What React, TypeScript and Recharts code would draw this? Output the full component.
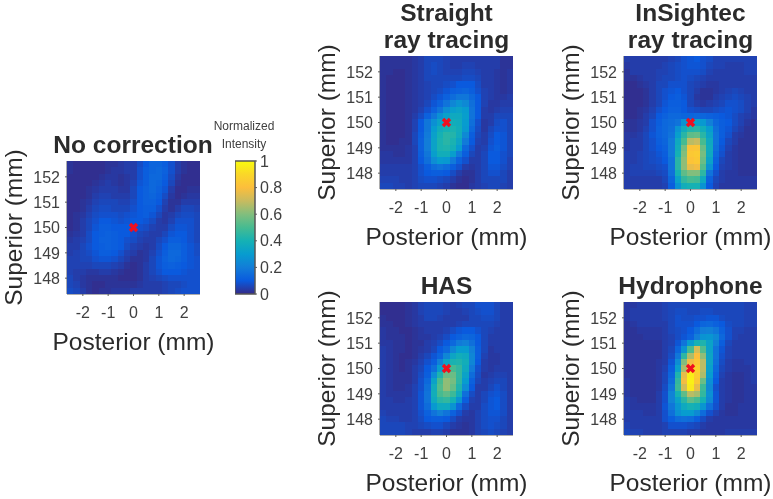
import React from 'react';
import { ScatterChart, Scatter, BarChart, Bar, XAxis, YAxis } from 'recharts';

const FONT = '"Liberation Sans", Arial, sans-serif';
const TEXT = '#2b2b2b';
const AXIS = '#5a5a5a';
const PLOT = 133;
const CELL = PLOT / 21;
const LEFT = 70;
const TOP = 24;
const BOTTOM = 62;
const RIGHT = 32;

const posterior = [-2.5, -2.25, -2, -1.75, -1.5, -1.25, -1, -0.75, -0.5, -0.25, 0, 0.25, 0.5, 0.75, 1, 1.25, 1.5, 1.75, 2, 2.25, 2.5];
const superior = [152.5, 152.25, 152, 151.75, 151.5, 151.25, 151, 150.75, 150.5, 150.25, 150, 149.75, 149.5, 149.25, 149, 148.75, 148.5, 148.25, 148, 147.75, 147.5];
const posteriorTicks = [-2, -1, 0, 1, 2];
const superiorTicks = [148, 149, 150, 151, 152];
const colorbarTicks = [0, 0.2, 0.4, 0.6, 0.8, 1];
const target = [{ x: 0, y: 150 }];

// percent of the normalized intensity, rows top to bottom
const noCorrection = [
  [2, 1, 1, 1, 1, 1, 2, 2, 3, 4, 4, 7, 10, 13, 13, 11, 8, 4, 2, 1, 1],
  [2, 1, 1, 1, 1, 1, 2, 3, 3, 4, 4, 8, 11, 13, 14, 12, 8, 4, 2, 1, 1],
  [1, 1, 1, 1, 1, 2, 3, 3, 2, 3, 4, 8, 11, 14, 14, 11, 7, 3, 1, 1, 1],
  [1, 1, 1, 1, 2, 3, 4, 3, 2, 3, 5, 9, 11, 14, 13, 10, 6, 2, 1, 1, 1],
  [1, 1, 1, 2, 3, 4, 4, 4, 3, 3, 6, 10, 12, 14, 12, 9, 4, 1, 1, 2, 2],
  [1, 1, 1, 2, 4, 5, 5, 4, 4, 4, 6, 10, 12, 13, 11, 7, 3, 1, 2, 3, 3],
  [1, 1, 2, 3, 5, 6, 6, 6, 5, 5, 7, 10, 12, 12, 10, 5, 2, 2, 4, 4, 4],
  [1, 1, 2, 4, 6, 7, 7, 6, 6, 6, 8, 10, 11, 11, 8, 4, 2, 4, 6, 6, 5],
  [1, 2, 3, 5, 7, 8, 8, 8, 7, 8, 9, 10, 11, 9, 6, 3, 4, 6, 7, 7, 6],
  [1, 2, 4, 6, 8, 10, 10, 9, 8, 9, 10, 10, 9, 7, 4, 3, 5, 8, 8, 8, 6],
  [1, 2, 4, 6, 9, 11, 11, 10, 10, 10, 9, 8, 7, 5, 4, 4, 7, 9, 9, 8, 6],
  [2, 3, 4, 7, 10, 11, 12, 11, 10, 10, 8, 6, 5, 4, 4, 6, 9, 10, 10, 8, 6],
  [3, 4, 5, 7, 10, 12, 12, 11, 10, 8, 7, 5, 4, 4, 6, 8, 11, 11, 10, 8, 6],
  [4, 4, 6, 8, 10, 11, 12, 11, 10, 7, 5, 4, 3, 4, 7, 10, 13, 13, 11, 9, 7],
  [4, 5, 6, 7, 9, 11, 11, 10, 8, 5, 4, 2, 3, 5, 8, 11, 14, 14, 11, 9, 7],
  [5, 5, 6, 6, 8, 9, 9, 8, 6, 4, 2, 2, 3, 6, 9, 12, 14, 13, 11, 9, 8],
  [5, 5, 5, 5, 6, 6, 6, 5, 4, 2, 1, 2, 4, 6, 9, 11, 12, 11, 10, 9, 8],
  [5, 4, 4, 3, 3, 4, 4, 3, 2, 1, 1, 2, 4, 6, 8, 10, 10, 10, 9, 8, 8],
  [6, 4, 3, 2, 2, 2, 2, 2, 1, 1, 1, 2, 4, 5, 6, 7, 8, 8, 8, 8, 8],
  [6, 5, 3, 2, 1, 1, 2, 2, 2, 2, 2, 3, 4, 4, 4, 5, 6, 6, 7, 8, 8],
  [7, 6, 4, 2, 1, 2, 2, 3, 3, 3, 4, 4, 4, 4, 4, 5, 6, 7, 8, 8, 8],
];

const straightRay = [
  [2, 2, 2, 2, 2, 3, 4, 6, 6, 6, 5, 4, 4, 4, 4, 4, 4, 4, 4, 2, 2],
  [2, 2, 2, 2, 2, 3, 4, 6, 7, 6, 5, 4, 4, 5, 5, 4, 4, 4, 4, 2, 2],
  [2, 2, 1, 1, 2, 3, 4, 6, 7, 6, 5, 5, 5, 6, 6, 5, 4, 4, 3, 2, 3],
  [2, 1, 1, 1, 2, 3, 4, 6, 6, 6, 6, 6, 6, 7, 7, 6, 4, 4, 3, 2, 3],
  [2, 1, 1, 1, 2, 3, 4, 5, 6, 6, 7, 8, 10, 10, 10, 7, 4, 4, 3, 2, 3],
  [2, 1, 1, 1, 2, 3, 4, 5, 6, 7, 9, 11, 12, 13, 11, 8, 5, 4, 3, 2, 3],
  [2, 1, 1, 1, 2, 3, 4, 5, 7, 9, 12, 15, 18, 18, 14, 10, 5, 4, 3, 3, 4],
  [2, 1, 1, 1, 2, 3, 4, 6, 9, 12, 17, 23, 27, 24, 16, 10, 5, 3, 3, 4, 4],
  [2, 1, 1, 1, 2, 3, 5, 8, 12, 17, 25, 31, 33, 30, 17, 10, 4, 3, 4, 5, 5],
  [2, 1, 1, 1, 2, 4, 7, 12, 18, 26, 32, 36, 36, 31, 17, 10, 4, 4, 6, 6, 6],
  [2, 1, 1, 1, 2, 5, 10, 18, 26, 33, 37, 38, 37, 30, 16, 8, 3, 4, 7, 8, 6],
  [2, 1, 1, 1, 2, 5, 10, 18, 30, 37, 40, 41, 38, 29, 14, 7, 3, 6, 8, 8, 6],
  [2, 1, 1, 1, 2, 6, 11, 19, 32, 40, 44, 43, 37, 24, 11, 6, 4, 7, 10, 9, 6],
  [2, 1, 1, 2, 2, 6, 12, 20, 33, 41, 44, 41, 34, 19, 10, 5, 4, 8, 10, 9, 6],
  [2, 2, 2, 2, 3, 5, 12, 20, 33, 41, 42, 39, 30, 14, 8, 4, 5, 9, 11, 9, 6],
  [3, 3, 2, 2, 3, 5, 11, 18, 31, 38, 38, 31, 19, 11, 6, 4, 6, 10, 10, 8, 6],
  [3, 3, 3, 3, 3, 5, 10, 16, 25, 30, 29, 19, 12, 8, 4, 4, 6, 10, 10, 8, 5],
  [4, 4, 4, 4, 4, 5, 8, 11, 15, 17, 15, 11, 8, 4, 3, 4, 6, 9, 9, 7, 5],
  [4, 4, 4, 4, 4, 5, 8, 10, 11, 11, 10, 7, 4, 2, 2, 4, 6, 8, 8, 6, 4],
  [5, 5, 5, 4, 4, 5, 7, 8, 8, 7, 6, 4, 2, 1, 2, 4, 6, 6, 6, 6, 4],
  [6, 6, 5, 5, 4, 5, 6, 6, 6, 5, 4, 2, 1, 1, 3, 4, 5, 6, 6, 5, 4],
];

const insightecRay = [
  [4, 4, 4, 4, 4, 4, 4, 5, 6, 8, 9, 10, 8, 7, 5, 5, 5, 5, 5, 5, 5],
  [3, 4, 4, 4, 4, 4, 5, 6, 7, 8, 9, 9, 8, 6, 5, 5, 4, 4, 4, 5, 5],
  [2, 4, 4, 4, 4, 5, 5, 6, 7, 8, 8, 8, 7, 5, 4, 4, 4, 4, 4, 5, 5],
  [2, 2, 3, 4, 4, 5, 6, 6, 7, 8, 7, 6, 5, 4, 4, 4, 4, 4, 4, 4, 4],
  [1, 1, 2, 3, 4, 6, 6, 8, 8, 8, 6, 5, 4, 3, 3, 4, 4, 4, 4, 4, 4],
  [1, 1, 1, 2, 4, 6, 8, 9, 10, 8, 6, 4, 2, 2, 3, 4, 5, 6, 5, 4, 4],
  [1, 1, 1, 2, 4, 6, 8, 10, 11, 9, 6, 3, 2, 2, 4, 5, 6, 7, 6, 5, 4],
  [1, 1, 1, 2, 4, 6, 9, 11, 11, 10, 6, 4, 3, 4, 5, 6, 8, 8, 7, 5, 4],
  [1, 1, 2, 3, 5, 8, 10, 12, 12, 10, 8, 7, 6, 6, 7, 8, 9, 8, 7, 5, 3],
  [1, 1, 2, 4, 6, 10, 12, 14, 14, 13, 13, 14, 13, 12, 11, 10, 9, 7, 5, 4, 3],
  [2, 2, 3, 4, 8, 11, 14, 15, 17, 27, 31, 33, 29, 21, 14, 11, 10, 7, 5, 3, 2],
  [2, 2, 3, 5, 8, 12, 14, 16, 27, 37, 43, 44, 38, 30, 16, 11, 9, 6, 4, 2, 2],
  [3, 3, 4, 6, 9, 12, 14, 17, 31, 44, 54, 55, 44, 33, 17, 11, 8, 4, 3, 2, 2],
  [3, 4, 4, 6, 8, 11, 13, 19, 36, 50, 68, 70, 50, 36, 17, 10, 6, 4, 2, 2, 2],
  [3, 4, 4, 6, 8, 10, 12, 19, 38, 58, 82, 83, 56, 37, 16, 9, 5, 3, 2, 2, 2],
  [4, 4, 5, 6, 7, 9, 11, 19, 40, 60, 84, 85, 58, 36, 14, 8, 4, 3, 2, 2, 2],
  [4, 4, 5, 6, 7, 8, 10, 17, 44, 62, 82, 84, 56, 33, 12, 6, 4, 3, 2, 2, 2],
  [4, 5, 5, 6, 6, 7, 8, 17, 44, 62, 76, 78, 52, 27, 10, 5, 4, 3, 2, 2, 2],
  [4, 5, 5, 5, 5, 6, 7, 16, 40, 54, 60, 60, 45, 17, 8, 4, 3, 3, 2, 2, 2],
  [4, 4, 4, 4, 4, 4, 6, 13, 33, 46, 50, 49, 36, 12, 6, 4, 3, 3, 3, 3, 3],
  [4, 4, 4, 4, 4, 4, 5, 11, 27, 38, 40, 40, 27, 10, 5, 3, 3, 3, 3, 3, 3],
];

const has = [
  [1, 1, 1, 1, 2, 3, 5, 6, 6, 6, 5, 4, 5, 6, 6, 8, 8, 8, 6, 4, 4],
  [1, 1, 1, 1, 2, 3, 5, 6, 6, 6, 5, 4, 4, 5, 6, 7, 8, 8, 6, 4, 4],
  [2, 1, 1, 1, 2, 3, 4, 6, 6, 5, 4, 4, 4, 4, 6, 6, 7, 7, 6, 4, 4],
  [2, 2, 1, 1, 2, 3, 4, 4, 4, 4, 4, 4, 5, 6, 6, 6, 6, 6, 5, 4, 4],
  [3, 2, 2, 1, 1, 2, 3, 4, 4, 4, 5, 7, 9, 10, 10, 8, 6, 5, 4, 4, 4],
  [3, 2, 2, 2, 1, 2, 3, 3, 4, 5, 7, 10, 12, 14, 13, 10, 6, 4, 4, 4, 4],
  [3, 3, 2, 2, 1, 2, 2, 4, 5, 7, 10, 14, 19, 21, 16, 10, 6, 4, 4, 4, 4],
  [4, 3, 2, 2, 1, 2, 3, 4, 6, 10, 14, 23, 30, 30, 21, 11, 6, 3, 4, 4, 4],
  [4, 3, 2, 1, 1, 2, 4, 6, 9, 13, 23, 34, 38, 36, 23, 11, 5, 3, 3, 4, 4],
  [4, 3, 2, 1, 2, 3, 5, 8, 11, 21, 34, 41, 42, 38, 23, 10, 4, 3, 3, 4, 4],
  [4, 3, 2, 1, 2, 4, 6, 10, 16, 31, 44, 50, 46, 36, 19, 8, 4, 3, 4, 4, 4],
  [4, 3, 2, 2, 2, 4, 7, 11, 25, 42, 56, 56, 46, 33, 15, 7, 3, 4, 5, 5, 4],
  [4, 3, 2, 2, 2, 4, 8, 14, 33, 50, 62, 58, 45, 30, 12, 6, 4, 5, 6, 6, 4],
  [4, 3, 2, 2, 3, 5, 8, 16, 37, 52, 62, 55, 42, 25, 10, 4, 4, 6, 8, 6, 4],
  [4, 3, 3, 3, 3, 5, 9, 17, 38, 50, 54, 48, 37, 16, 7, 4, 6, 8, 9, 7, 4],
  [4, 4, 3, 3, 4, 5, 9, 17, 36, 44, 46, 40, 27, 11, 5, 4, 6, 9, 10, 7, 4],
  [4, 4, 4, 4, 4, 5, 9, 15, 29, 36, 36, 27, 14, 7, 4, 4, 7, 9, 10, 7, 4],
  [5, 4, 4, 4, 4, 5, 8, 12, 17, 21, 17, 12, 8, 4, 3, 5, 7, 9, 9, 7, 4],
  [6, 5, 5, 4, 4, 5, 7, 10, 11, 11, 10, 7, 4, 3, 3, 5, 7, 8, 8, 6, 4],
  [6, 6, 6, 6, 5, 5, 6, 7, 8, 8, 6, 4, 3, 2, 3, 5, 7, 8, 7, 6, 4],
  [6, 6, 6, 6, 5, 4, 4, 4, 5, 5, 4, 2, 2, 2, 3, 5, 6, 7, 6, 5, 4],
];

const hydrophone = [
  [3, 3, 4, 4, 4, 4, 5, 6, 6, 6, 6, 6, 6, 6, 6, 6, 6, 6, 6, 5, 5],
  [3, 4, 4, 4, 4, 4, 5, 6, 7, 7, 6, 6, 7, 7, 6, 6, 6, 6, 6, 5, 5],
  [3, 4, 4, 4, 4, 4, 5, 6, 8, 7, 7, 8, 8, 9, 9, 7, 6, 6, 6, 5, 5],
  [2, 3, 4, 4, 4, 4, 4, 6, 8, 8, 8, 10, 13, 14, 12, 10, 7, 6, 6, 5, 5],
  [2, 2, 3, 3, 3, 3, 4, 6, 7, 8, 10, 15, 20, 21, 18, 12, 8, 5, 5, 4, 4],
  [2, 2, 2, 3, 3, 3, 4, 5, 7, 9, 12, 20, 27, 28, 24, 14, 8, 5, 4, 4, 4],
  [2, 2, 2, 2, 2, 2, 4, 5, 9, 17, 30, 40, 42, 33, 21, 11, 6, 4, 4, 4, 4],
  [2, 2, 2, 2, 2, 2, 4, 6, 13, 27, 50, 72, 52, 33, 17, 9, 5, 4, 4, 4, 4],
  [2, 2, 2, 2, 2, 2, 4, 7, 18, 45, 66, 80, 62, 34, 17, 8, 5, 4, 4, 4, 4],
  [2, 2, 2, 2, 2, 3, 4, 9, 25, 60, 78, 84, 68, 34, 16, 7, 4, 3, 3, 4, 4],
  [2, 2, 2, 2, 2, 3, 5, 11, 32, 66, 92, 88, 68, 32, 14, 6, 4, 3, 3, 3, 4],
  [2, 2, 2, 2, 2, 3, 6, 13, 42, 76, 96, 86, 66, 30, 12, 5, 3, 2, 2, 3, 4],
  [3, 2, 2, 2, 2, 3, 6, 15, 46, 78, 97, 84, 56, 26, 10, 4, 3, 2, 2, 3, 4],
  [3, 2, 2, 2, 2, 3, 7, 18, 48, 72, 95, 76, 48, 24, 8, 4, 3, 2, 2, 3, 3],
  [3, 2, 2, 2, 2, 4, 8, 22, 40, 54, 68, 65, 46, 26, 9, 4, 3, 2, 2, 3, 3],
  [4, 3, 2, 2, 2, 4, 8, 22, 33, 44, 54, 50, 40, 24, 9, 4, 3, 2, 2, 3, 3],
  [4, 3, 3, 3, 3, 4, 9, 18, 28, 36, 40, 38, 28, 16, 8, 4, 2, 2, 3, 3, 3],
  [4, 4, 4, 3, 3, 4, 8, 16, 26, 30, 30, 24, 15, 8, 5, 3, 2, 2, 3, 3, 3],
  [4, 4, 4, 4, 4, 4, 8, 11, 15, 16, 15, 11, 7, 4, 3, 3, 3, 3, 3, 3, 3],
  [5, 4, 4, 4, 4, 4, 5, 8, 8, 8, 7, 6, 4, 3, 3, 3, 3, 3, 3, 3, 3],
  [6, 5, 5, 4, 4, 4, 5, 5, 5, 5, 4, 4, 3, 3, 3, 3, 4, 4, 4, 4, 4],
];

// parula, as it looks on the colorbar
const parula: [number, number, number, number][] = [
  [0, 53, 42, 135],
  [0.1, 10, 90, 222],
  [0.2, 18, 125, 216],
  [0.3, 7, 156, 207],
  [0.4, 21, 177, 180],
  [0.5, 70, 187, 145],
  [0.6, 130, 190, 125],
  [0.7, 200, 187, 95],
  [0.8, 252, 190, 60],
  [0.9, 250, 215, 40],
  [1, 249, 251, 14],
];

function colorOf(v: number) {
  for (let i = 1; i < parula.length; i++) {
    if (v <= parula[i][0]) {
      const a = parula[i - 1];
      const b = parula[i];
      const t = (v - a[0]) / (b[0] - a[0]);
      const mix = (k: number) => Math.round(a[k] + (b[k] - a[k]) * t);
      return `rgb(${mix(1)},${mix(2)},${mix(3)})`;
    }
  }
  return 'rgb(249,251,14)';
}

const tickStyle = { fill: '#404040', fontSize: 16, fontFamily: FONT };
const labelStyle = { fill: TEXT, fontSize: 24.5, fontFamily: FONT, textAnchor: 'middle' as const };

function HeatCell(props: any) {
  const { cx, cy, payload } = props;
  return (
    <rect
      x={cx - CELL / 2}
      y={cy - CELL / 2}
      width={CELL + 0.4}
      height={CELL + 0.4}
      shapeRendering="crispEdges"
      fill={colorOf(payload.value / 100)}
    />
  );
}

function Cross(props: any) {
  const { cx, cy } = props;
  const r = 3.5;
  return (
    <path
      d={`M${cx - r} ${cy - r}L${cx + r} ${cy + r}M${cx - r} ${cy + r}L${cx + r} ${cy - r}`}
      stroke="#f0101f"
      strokeWidth={3.4}
      fill="none"
    />
  );
}

function Panel({ grid, x, y, title }: { grid: number[][]; x: number; y: number; title: string[] }) {
  const cells = grid.flatMap((row, r) =>
    row.map((value, c) => ({ x: posterior[c], y: superior[r], value })),
  );
  return (
    <>
      <div style={{ position: 'absolute', left: x - LEFT, top: y - TOP }}>
        <ScatterChart
          width={LEFT + PLOT + RIGHT}
          height={TOP + PLOT + BOTTOM}
          margin={{ top: TOP, right: RIGHT, bottom: 0, left: 0 }}
        >
          <XAxis
            type="number"
            dataKey="x"
            domain={[-2.625, 2.625]}
            ticks={posteriorTicks}
            interval={0}
            height={BOTTOM}
            tick={tickStyle}
            tickSize={2}
            tickMargin={11}
            stroke={AXIS}
            allowDataOverflow
            label={{ value: 'Posterior (mm)', position: 'insideBottom', offset: 6, style: labelStyle }}
          />
          <YAxis
            type="number"
            dataKey="y"
            domain={[147.375, 152.625]}
            ticks={superiorTicks}
            interval={0}
            width={LEFT}
            tick={tickStyle}
            tickSize={2}
            tickMargin={5}
            stroke={AXIS}
            allowDataOverflow
            label={{ value: 'Superior (mm)', angle: -90, position: 'insideLeft', offset: 16, style: labelStyle }}
          />
          <Scatter data={cells} shape={HeatCell} isAnimationActive={false} />
          <Scatter data={target} shape={Cross} isAnimationActive={false} />
        </ScatterChart>
      </div>
      {title.map((line, i) => (
        <div
          key={line}
          style={{
            position: 'absolute',
            left: x - 60,
            width: PLOT + 120,
            top: y - 31 - (title.length - 1 - i) * 27 + 1,
            textAlign: 'center',
            font: `bold 24.5px ${FONT}`,
            lineHeight: '28px',
            color: TEXT,
          }}
        >
          {line}
        </div>
      ))}
    </>
  );
}

function Colorbar() {
  return (
    <>
      <div style={{ position: 'absolute', left: 194, width: 100, top: 119, textAlign: 'center', font: `12px/14px ${FONT}`, color: '#404040' }}>
        Normalized
      </div>
      <div style={{ position: 'absolute', left: 194, width: 100, top: 137, textAlign: 'center', font: `12px/14px ${FONT}`, color: '#404040' }}>
        Intensity
      </div>
      <div style={{ position: 'absolute', left: 235, top: 149 }}>
        <BarChart
          width={60}
          height={PLOT + 24}
          data={[{ name: 'intensity', value: 1 }]}
          margin={{ top: 12, right: 0, bottom: 12, left: 0 }}
          barCategoryGap={0}
        >
          <defs>
            <linearGradient id="parulaFill" x1="0" y1="1" x2="0" y2="0">
              {parula.map((s) => (
                <stop key={s[0]} offset={s[0]} stopColor={`rgb(${s[1]},${s[2]},${s[3]})`} />
              ))}
            </linearGradient>
          </defs>
          <XAxis dataKey="name" hide />
          <YAxis
            orientation="right"
            type="number"
            domain={[0, 1]}
            ticks={colorbarTicks}
            interval={0}
            width={40}
            tick={tickStyle}
            tickSize={2}
            tickMargin={3}
            stroke={AXIS}
            axisLine={false}
          />
          <Bar dataKey="value" fill="url(#parulaFill)" stroke="#555555" strokeWidth={1.5} isAnimationActive={false} />
        </BarChart>
      </div>
    </>
  );
}

export default function App() {
  return (
    <div style={{ position: 'absolute', left: 0, top: 0, width: 773, height: 499, background: '#fff', overflow: 'hidden', filter: 'blur(0.4px)' }}>
      <Panel grid={noCorrection} x={66.5} y={161} title={['No correction']} />
      <Panel grid={straightRay} x={380} y={56} title={['Straight', 'ray tracing']} />
      <Panel grid={insightecRay} x={624} y={56} title={['InSightec', 'ray tracing']} />
      <Panel grid={has} x={380} y={302} title={['HAS']} />
      <Panel grid={hydrophone} x={624} y={302} title={['Hydrophone']} />
      <Colorbar />
    </div>
  );
}
